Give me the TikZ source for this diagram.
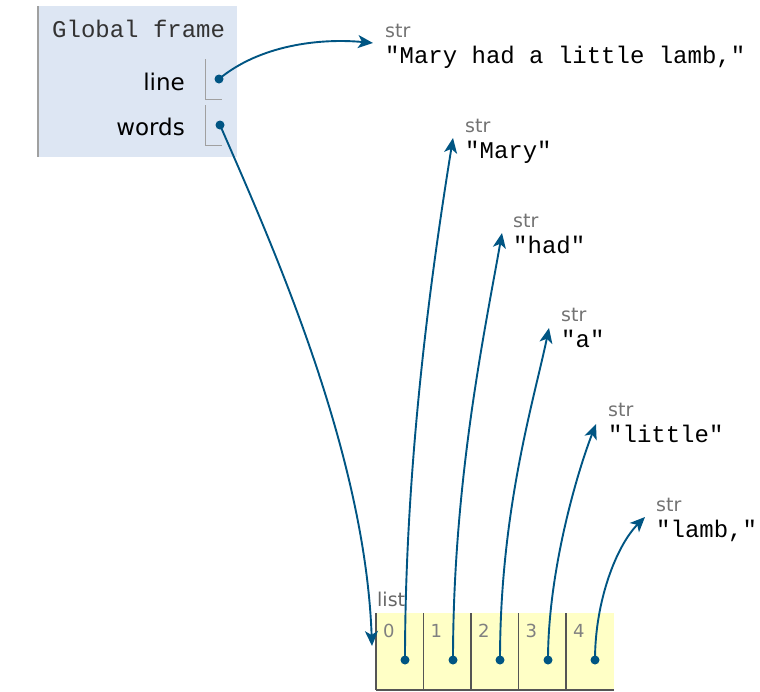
\documentclass[tikz,border=0pt]{standalone}
\usepackage{fontspec}
\setmainfont{DejaVu Sans}
\newfontfamily\codefont{Liberation Mono}
\usetikzlibrary{arrows.meta}
\definecolor{ptblue}{HTML}{005583}
\definecolor{framebg}{HTML}{DDE6F3}
\definecolor{listbg}{HTML}{FFFFC6}
\definecolor{edgegray}{HTML}{A0A0A0}
\definecolor{cellgray}{HTML}{555555}

\begin{document}
\begin{tikzpicture}[x=1pt,y=-1pt,
    varname/.style={font=\fontsize{23}{25}\selectfont, anchor=base east, inner sep=0},
    code/.style={font=\codefont\fontsize{24}{26}\selectfont, anchor=base west, inner sep=0},
    typ/.style={font=\fontsize{19}{21}\selectfont, text=gray!90!black, anchor=base west, inner sep=0},
    idx/.style={font=\fontsize{18}{20}\selectfont, text=gray, anchor=base west, inner sep=0},
    ptr/.style={draw=ptblue, line width=1.9pt, -{Stealth[length=15pt,width=13pt,inset=4pt]}},
    dot/.style={circle, fill=ptblue, inner sep=0, minimum size=9pt}]
    \useasboundingbox (0,0) rectangle (760,691);

    % global frame
    \fill[framebg] (38,6) rectangle (237,157);
    \draw[edgegray, line width=1.5pt] (38,6) -- (38,157);
    \node[code, text=black!80] (gf) at (52,37) {Global frame};
    \node[varname] (vline) at (185,90) {line};
    \node[varname] (vwords) at (185,135) {words};
    \draw[edgegray, line width=1pt] (205,59) -- (205,99) -- (222,99);
    \draw[edgegray, line width=1pt] (205,105) -- (205,145) -- (222,145);
    \node[dot] (dline) at (219,79) {};
    \node[dot] (dwords) at (220,125) {};

    % strings
    \node[typ] (t0) at (385,37) {str};
    \node[code] (s0) at (385,63) {"Mary had a little lamb,"};
    \node[typ] (t1) at (465,132) {str};
    \node[code] (s1) at (465,158) {"Mary"};
    \node[typ] (t2) at (513,227) {str};
    \node[code] (s2) at (513,253) {"had"};
    \node[typ] (t3) at (561,321) {str};
    \node[code] (s3) at (561,347) {"a"};
    \node[typ] (t4) at (608,416) {str};
    \node[code] (s4) at (608,442) {"little"};
    \node[typ] (t5) at (656,511) {str};
    \node[code] (s5) at (656,537) {"lamb,"};

    \coordinate (a0) at (373,43);
    \coordinate (a1) at (453,138);
    \coordinate (a2) at (502,233);
    \coordinate (a3) at (549,328);
    \coordinate (a4) at (596,424);
    \coordinate (a5) at (645,517);
    \coordinate (alist) at (372,646);

    % list
    \node[typ, text=gray!80!black] (lst) at (377,606) {list};
    \fill[listbg] (376,613) rectangle (614,690);
    \foreach \i/\x in {0/376,1/423.5,2/471,3/518.5,4/566} {
        \draw[cellgray, line width=1.2pt] (\x,613) -- (\x,690);
        \node[idx] (i\i) at (\x+7,637) {\i};
    }
    \draw[cellgray, line width=1.2pt] (376,690) -- (614,690);
    \foreach \i/\x in {0/405,1/453,2/500,3/548,4/595}
        \node[dot] (p\i) at (\x,660) {};

    % pointers
    \draw[ptr] (dline.center) .. controls (260,45) and (320,38) .. (a0);
    \draw[ptr] (dwords.center) .. controls (270,240) and (365,450) .. (alist);
    \draw[ptr] (p0.center) .. controls (405,450) and (435,250) .. (a1);
    \draw[ptr] (p1.center) .. controls (453,480) and (485,330) .. (a2);
    \draw[ptr] (p2.center) .. controls (500,510) and (534,400) .. (a3);
    \draw[ptr] (p3.center) .. controls (548,570) and (578,470) .. (a4);
    \draw[ptr] (p4.center) .. controls (595,600) and (617,545) .. (a5);
\end{tikzpicture}
\end{document}
